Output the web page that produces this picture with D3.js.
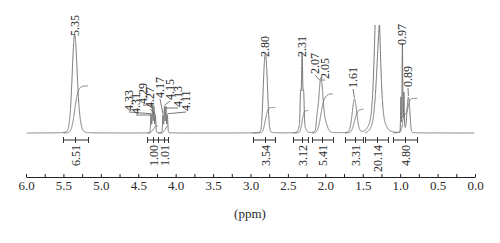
<!DOCTYPE html>
<html>
<head>
<meta charset="utf-8">
<script src="https://cdn.jsdelivr.net/npm/d3@7/dist/d3.min.js"></script>
<style>
  body { margin: 0; background: #fff; }
  text { font-family: "Liberation Serif", "DejaVu Serif", serif; fill: #2a2a2a; }
</style>
</head>
<body>
<div id="spectrum"></div>
<script>
// peaks: shift (ppm), height (% of plot), width (ppm)
var peakPpm    = [5.38, 5.35, 5.31, 4.33, 4.31, 4.29, 4.27, 4.30, 4.17, 4.15, 4.13, 4.11, 4.14,
                  2.825, 2.80, 2.775, 2.33, 2.31, 2.29, 2.31, 2.11, 2.07, 2.05, 2.00, 1.61,
                  1.305, 1.305, 0.99, 0.97, 0.95, 0.96, 0.91, 0.89, 0.87]
var peakHeight = [10, 78, 14, 15, 20, 20, 15, 5, 15, 20, 20, 15, 5,
                  28, 58, 24, 28, 60, 28, 12, 8, 28, 26, 8, 31,
                  122, 22, 30, 75, 30, 8, 10, 30, 10]
var peakWidth  = [0.03, 0.03, 0.035, 0.005, 0.005, 0.005, 0.005, 0.02, 0.005, 0.005, 0.005, 0.005, 0.02,
                  0.016, 0.018, 0.016, 0.007, 0.007, 0.007, 0.03, 0.012, 0.025, 0.025, 0.03, 0.03,
                  0.033, 0.07, 0.004, 0.004, 0.004, 0.02, 0.01, 0.013, 0.01]

// labelled shifts
var shiftLabels = [5.35, 4.33, 4.31, 4.29, 4.27, 4.17, 4.15, 4.13, 4.11, 2.80, 2.31, 2.07, 2.05, 1.61, 0.97, 0.89]

// integration regions
var integralFrom   = [5.50, 4.38, 4.23, 2.97, 2.43, 2.18, 1.74, 1.47, 1.09]
var integralTo     = [5.17, 4.24, 4.10, 2.67, 2.23, 1.90, 1.49, 1.16, 0.77]
var integralMid    = [5.35, 4.30, 4.15, 2.80, 2.31, 2.04, 1.61, 1.31, 0.93]
var integralValues = ["6.51", "1.00", "1.01", "3.54", "3.12", "5.41", "3.31", "20.14", "4.80"]

var tickValues = d3.range(0, 6.001, 0.25)

showSpectrum()

function showSpectrum() {
  var width = 500
  var height = 243

  var svg = d3.select("#spectrum")
    .append("svg")
      .attr("width", width)
      .attr("height", height)

  var x = d3.scaleLinear().domain([6, 0]).range([26, 475])
  var y = d3.scaleLinear().domain([0, 100]).range([133, 25])
  var integralUnit = 6.7   // % of plot per integral unit

  function intensity(p) {
    var s = 0
    for (var i = 0; i < peakPpm.length; i++) {
      var d = (p - peakPpm[i]) / peakWidth[i]
      var g = Math.exp(-0.5 * d * d)
      var l = 1 / (1 + d * d / 1.386)
      s += peakHeight[i] * (0.9 * g + 0.1 * l)
    }
    return s
  }

  var samples = d3.range(5.99, 0.01, -0.001)
  var spectrum = samples.map(function(p) { return [p, intensity(p)] })

  svg.append("clipPath").attr("id", "clip")
    .append("rect").attr("x", 0).attr("y", 25).attr("width", width).attr("height", 200)

  var line = d3.line()
    .x(function(d) { return x(d[0]) })
    .y(function(d) { return y(d[1]) })

  var plot = svg.append("g").attr("clip-path", "url(#clip)")

  plot.append("path")
    .datum(spectrum)
    .attr("fill", "none")
    .attr("stroke", "#777")
    .attr("stroke-width", 1)
    .attr("d", line)

  // integral curves
  integralFrom.forEach(function(from, i) {
    var pts = spectrum.filter(function(d) { return d[0] <= from && d[0] >= integralTo[i] })
    var total = d3.sum(pts, function(d) { return d[1] })
    var run = 0
    var curve = pts.map(function(d) {
      run += d[1]
      return [d[0], run / total * (+integralValues[i]) * integralUnit]
    })
    plot.append("path")
      .datum(curve)
      .attr("fill", "none")
      .attr("stroke", "#777")
      .attr("stroke-width", 1)
      .attr("d", line)
  })

  // integral brackets
  var bars = svg.append("g").attr("stroke", "#333").attr("stroke-width", 1)
  integralFrom.forEach(function(from, i) {
    var x0 = Math.round(x(from)) + 0.5, x1 = Math.round(x(integralTo[i])) + 0.5, xm = Math.round(x(integralMid[i])) + 0.5
    bars.append("line").attr("x1", x0).attr("x2", x1).attr("y1", 140).attr("y2", 140)
    ;[x0, xm, x1].forEach(function(xx) {
      bars.append("line").attr("x1", xx).attr("x2", xx).attr("y1", 137).attr("y2", 143)
    })
    svg.append("text")
      .attr("transform", "translate(" + xm + ",145) rotate(-90)")
      .attr("text-anchor", "end")
      .attr("dy", "0.35em")
      .style("font-size", "12px")
      .text(integralValues[i])
  })

  // shift labels with leader lines
  var labelPos = [[75, 36], [129, 111], [136, 114], [143, 104], [150, 108], [160, 98], [170, 100], [178, 107], [186, 111],
                  [265, 57], [302, 57], [315, 74], [325, 79], [353, 88], [402, 45], [408, 87]]
  shiftLabels.forEach(function(s, i) {
    var lx = labelPos[i][0], ly = labelPos[i][1]
    var px = x(s), py = y(intensity(s)) - 1
    svg.append("path")
      .attr("fill", "none")
      .attr("stroke", "#555")
      .attr("stroke-width", 0.8)
      .attr("d", "M" + lx + "," + (ly + 1) + "L" + px + "," + Math.max(py, ly + 1))
    svg.append("text")
      .attr("transform", "translate(" + lx + "," + ly + ") rotate(-90)")
      .attr("dy", "0.35em")
      .style("font-size", "12px")
      .text(d3.format(".2f")(s))
  })

  // axis
  var axis = d3.axisBottom(x)
    .tickValues(tickValues)
    .tickSizeInner(-3)
    .tickSizeOuter(0)
    .tickPadding(4)
    .tickFormat(function(d) { return Math.round(d * 4) % 2 === 0 ? d3.format(".1f")(d) : "" })

  var gx = svg.append("g")
    .attr("transform", "translate(0,177)")
    .call(axis)
  gx.selectAll("text").style("font-size", "13px").style("font-family", "Liberation Serif").attr("fill", "#2a2a2a")
  gx.selectAll("line, path").attr("stroke", "#222")

  svg.append("text")
    .attr("x", 250)
    .attr("y", 218)
    .attr("text-anchor", "middle")
    .style("font-size", "13px")
    .text("(ppm)")
}
</script>
</body>
</html>
